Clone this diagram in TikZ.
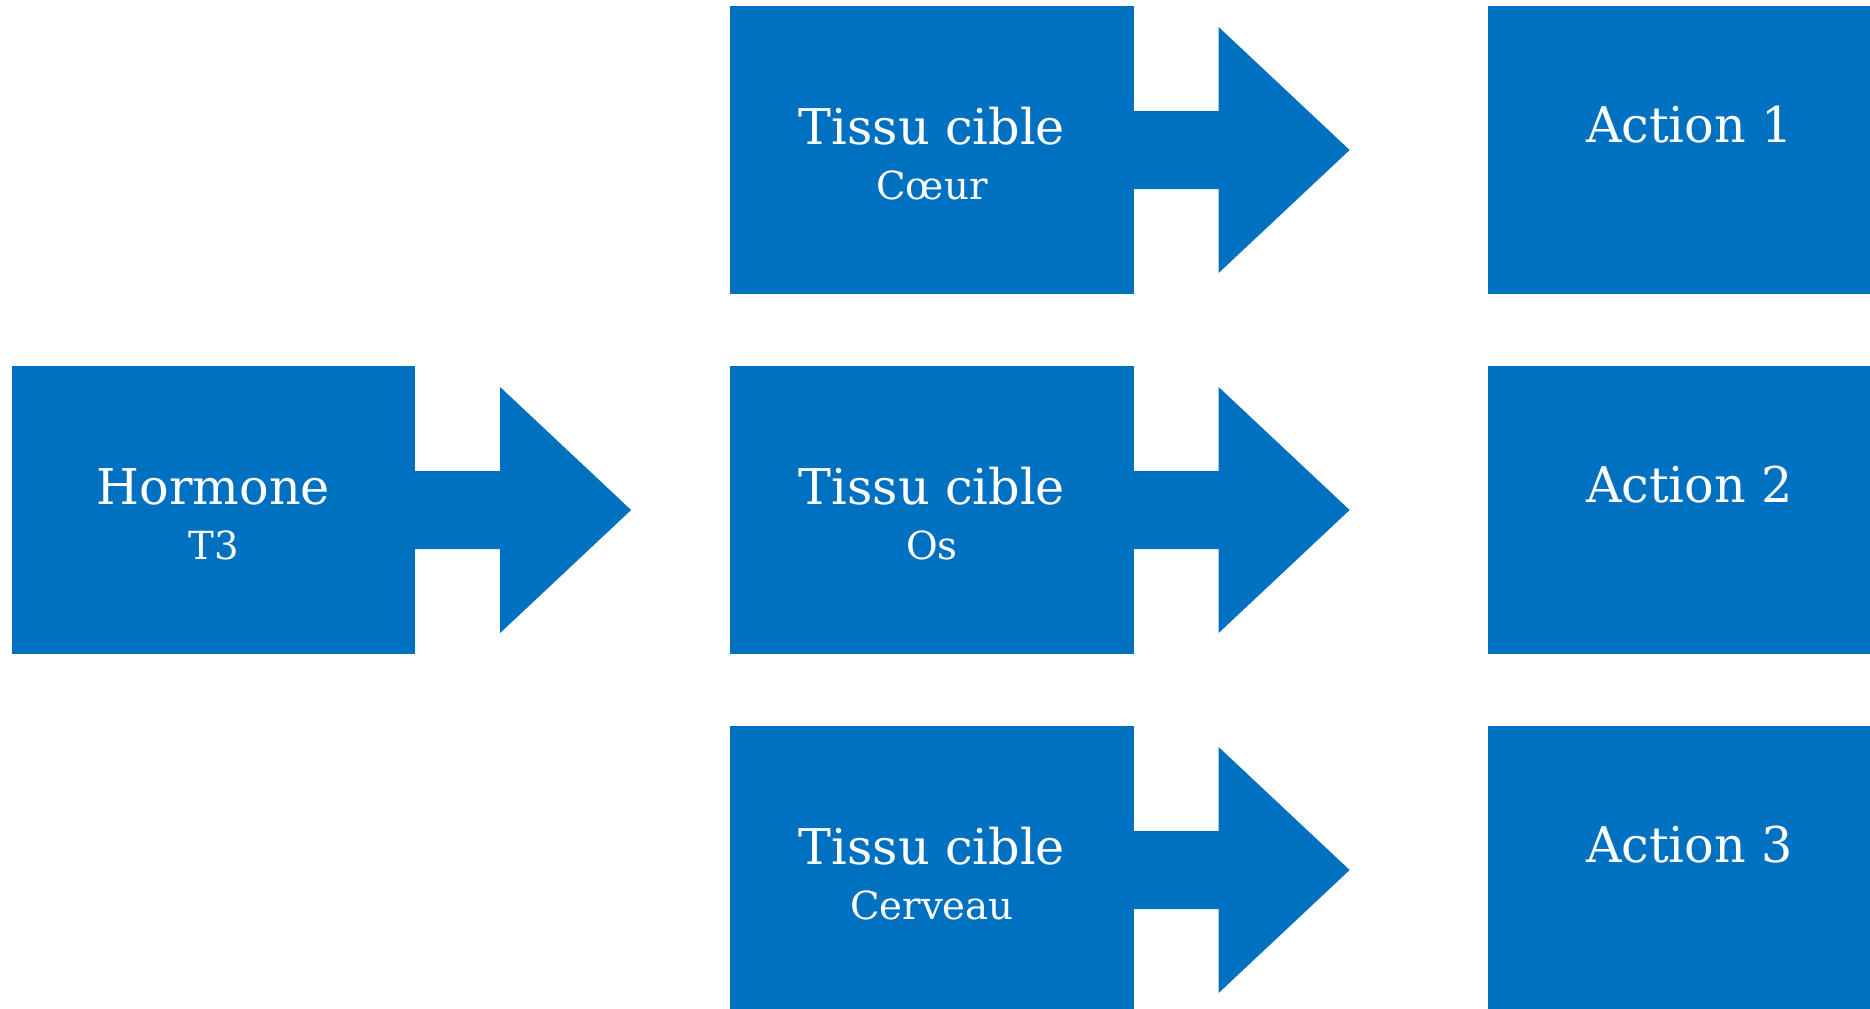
\documentclass[tikz,border=0pt]{standalone}
\usepackage{fontspec}
\setmainfont{DejaVu Serif}
\usetikzlibrary{calc}
\definecolor{boxblue}{RGB}{0,112,192}
\begin{document}
\begin{tikzpicture}[x=0.01cm,y=-0.01cm,
  box/.style={fill=boxblue, draw=none, minimum width=4.03cm, minimum height=2.88cm, inner sep=0pt, outer sep=0pt},
  title/.style={text=white, anchor=base, inner sep=0pt, font=\fontsize{14}{16}\selectfont},
  sub/.style={text=white, anchor=base, inner sep=0pt, font=\fontsize{11}{13}\selectfont},
  blockarrow/.style={fill=boxblue, draw=none}]
\useasboundingbox (0,0) rectangle (1870,1008);
\clip (0,0) rectangle (1870,1008);
% boxes
\node[box] (h)  at (213.5,510) {};
\node[box] (t1) at (932,150) {};
\node[box] (t2) at (932,510) {};
\node[box] (t3) at (932,870) {};
\node[box] (a1) at (1689.5,150) {};
\node[box] (a2) at (1689.5,510) {};
\node[box] (a3) at (1689.5,870) {};
% block arrows (connectors)
\foreach \n in {h,t1,t2,t3}{
  \fill[blockarrow] ($(\n.east)+(0,-39)$) -- ++(85,0) -- ++(0,-84) -- ++(131,123)
     -- ++(-131,123) -- ++(0,-84) -- ++(-85,0) -- cycle;
}
% texts
\node[title] (ht) at ($(h.center)+(0,-6)$) {Hormone};
\node[sub] (hs) at ($(h.center)+(0,49)$) {T3};
\node[title] (t1t) at ($(t1.center)+(0,-6)$) {Tissu cible};
\node[sub] (t1s) at ($(t1.center)+(0,49)$) {Cœur};
\node[title] (t2t) at ($(t2.center)+(0,-6)$) {Tissu cible};
\node[sub] (t2s) at ($(t2.center)+(0,49)$) {Os};
\node[title] (t3t) at ($(t3.center)+(0,-6)$) {Tissu cible};
\node[sub] (t3s) at ($(t3.center)+(0,49)$) {Cerveau};
\node[title] (a1t) at ($(a1.center)+(0,-8)$) {Action 1};
\node[title] (a2t) at ($(a2.center)+(0,-8)$) {Action 2};
\node[title] (a3t) at ($(a3.center)+(0,-8)$) {Action 3};
\end{tikzpicture}
\end{document}
